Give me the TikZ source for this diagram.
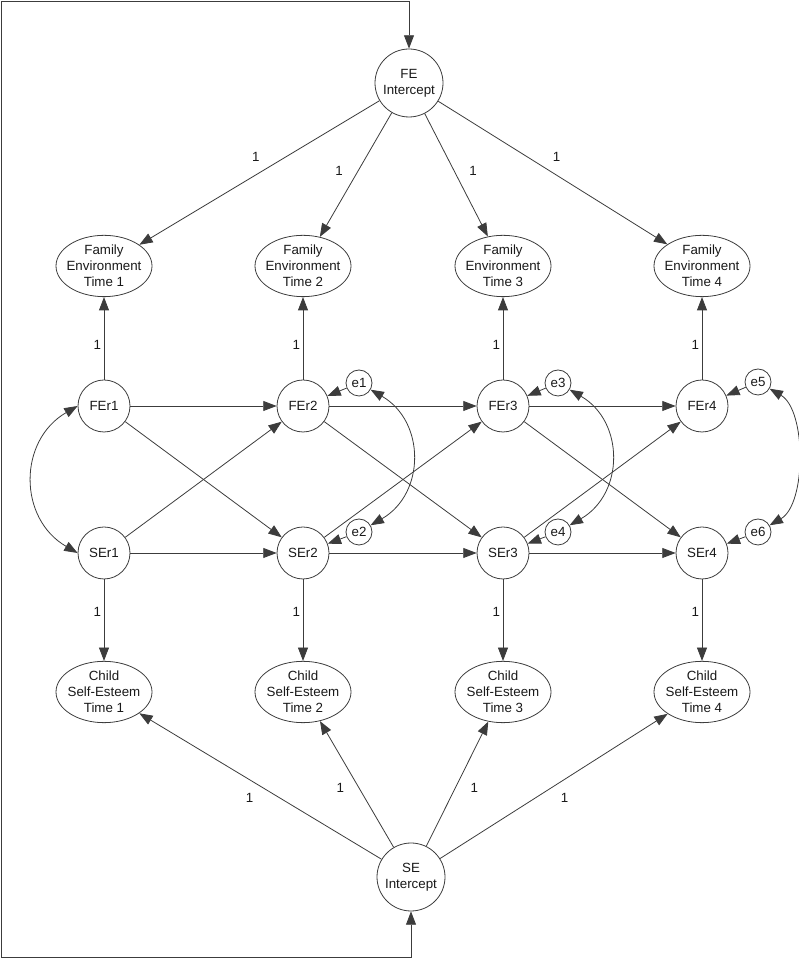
\documentclass[tikz,border=0pt]{standalone}
\usepackage{fontspec}
\setmainfont{Liberation Sans}
\usetikzlibrary{arrows.meta,shapes.geometric}
\definecolor{linegray}{HTML}{3C3C3C}
\begin{document}
\begin{tikzpicture}[
    x=0.75pt, y=0.75pt,
    every node/.append style={font=\fontsize{10pt}{12pt}\selectfont, text=black!90},
    latent/.style={circle, draw=linegray, line width=0.6pt, inner sep=0pt, minimum size=39pt},
    icept/.style={latent, minimum size=51pt, align=center},
    err/.style={latent, minimum size=19.5pt},
    obs/.style={ellipse, draw=linegray, line width=0.6pt, align=center, inner xsep=-3pt, inner ysep=0pt, minimum width=72pt, minimum height=46pt},
    arr/.style={->, >={Triangle[length=10pt, width=7.5pt]}, draw=linegray, line width=0.6pt},
    cov/.style={arr, <->},
    lbl/.style={inner sep=1pt}
]
    \useasboundingbox (0,0) rectangle (799,960);

    % intercepts
    \node[icept] (FEi) at (409,877) {FE\\Intercept};
    \node[icept] (SEi) at (411,83) {SE\\Intercept};

    % family environment
    \node[obs] (fam1) at (104,694) {Family\\Environment\\Time 1};
    \node[obs] (fam2) at (303,694) {Family\\Environment\\Time 2};
    \node[obs] (fam3) at (503,694) {Family\\Environment\\Time 3};
    \node[obs] (fam4) at (702,694) {Family\\Environment\\Time 4};
    \node[latent] (fer1) at (104,554) {FEr1};
    \node[latent] (fer2) at (303,554) {FEr2};
    \node[latent] (fer3) at (503,554) {FEr3};
    \node[latent] (fer4) at (702,554) {FEr4};

    % self-esteem
    \node[latent] (ser1) at (104,407) {SEr1};
    \node[latent] (ser2) at (303,407) {SEr2};
    \node[latent] (ser3) at (503,407) {SEr3};
    \node[latent] (ser4) at (702,407) {SEr4};
    \node[obs] (child1) at (104,268) {Child\\Self-Esteem\\Time 1};
    \node[obs] (child2) at (303,268) {Child\\Self-Esteem\\Time 2};
    \node[obs] (child3) at (503,268) {Child\\Self-Esteem\\Time 3};
    \node[obs] (child4) at (702,268) {Child\\Self-Esteem\\Time 4};

    % residuals
    \node[err] (e1) at (359,577) {e1};
    \node[err] (e2) at (359,428) {e2};
    \node[err] (e3) at (558,577) {e3};
    \node[err] (e4) at (558,428) {e4};
    \node[err] (e5) at (758,578) {e5};
    \node[err] (e6) at (758,428) {e6};

    \coordinate (tl) at (1.5,958.5);
    \coordinate (bl) at (1.5,3);

    % loadings
    \draw[arr] (FEi) -- (fam1) node[lbl, pos=0.47, above left=4pt] {1};
    \draw[arr] (FEi) -- (fam2) node[lbl, pos=0.47, left=10pt] {1};
    \draw[arr] (FEi) -- (fam3) node[lbl, pos=0.47, right=10pt] {1};
    \draw[arr] (FEi) -- (fam4) node[lbl, pos=0.47, above right=4pt] {1};
    \draw[arr] (SEi) -- (child1) node[lbl, pos=0.5, below left=4pt] {1};
    \draw[arr] (SEi) -- (child2) node[lbl, pos=0.47, left=10pt] {1};
    \draw[arr] (SEi) -- (child3) node[lbl, pos=0.47, right=10pt] {1};
    \draw[arr] (SEi) -- (child4) node[lbl, pos=0.5, below right=4pt] {1};

    \draw[arr] (fer1) -- (fam1) node[lbl, pos=0.42, left=1pt] {1};
    \draw[arr] (fer2) -- (fam2) node[lbl, pos=0.42, left=1pt] {1};
    \draw[arr] (fer3) -- (fam3) node[lbl, pos=0.42, left=1pt] {1};
    \draw[arr] (fer4) -- (fam4) node[lbl, pos=0.42, left=1pt] {1};
    \draw[arr] (ser1) -- (child1) node[lbl, pos=0.4, left=1pt] {1};
    \draw[arr] (ser2) -- (child2) node[lbl, pos=0.4, left=1pt] {1};
    \draw[arr] (ser3) -- (child3) node[lbl, pos=0.4, left=1pt] {1};
    \draw[arr] (ser4) -- (child4) node[lbl, pos=0.4, left=1pt] {1};

    % stability and cross-lagged paths
    \draw[arr] (fer1) -- (fer2);
    \draw[arr] (fer2) -- (fer3);
    \draw[arr] (fer3) -- (fer4);
    \draw[arr] (ser1) -- (ser2);
    \draw[arr] (ser2) -- (ser3);
    \draw[arr] (ser3) -- (ser4);
    \draw[arr] (fer1) -- (ser2);
    \draw[arr] (fer2) -- (ser3);
    \draw[arr] (fer3) -- (ser4);
    \draw[arr] (ser1) -- (fer2);
    \draw[arr] (ser2) -- (fer3);
    \draw[arr] (ser3) -- (fer4);

    \draw[arr] (e1) -- (fer2);
    \draw[arr] (e2) -- (ser2);
    \draw[arr] (e3) -- (fer3);
    \draw[arr] (e4) -- (ser3);
    \draw[arr] (e5) -- (fer4);
    \draw[arr] (e6) -- (ser4);

    % covariances
    \draw[cov] (fer1.west) to[out=210, in=150, looseness=1.2] (ser1.west);
    \draw[cov] (e1) to[out=-30, in=30, looseness=1.2] (e2);
    \draw[cov] (e3) to[out=-30, in=30, looseness=1.2] (e4);
    \draw[cov] (e5) to[out=-30, in=30, looseness=0.8] (e6);
    \draw[cov] (FEi) |- (tl) -- (bl) -| (SEi);
\end{tikzpicture}
\end{document}
